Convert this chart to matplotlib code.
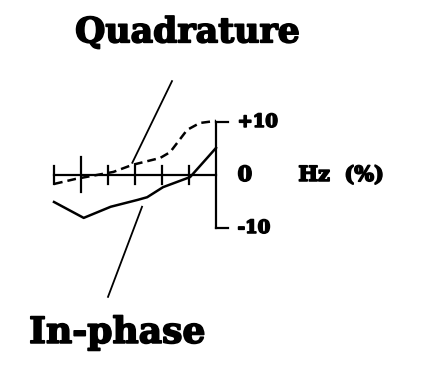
import numpy as np
from matplotlib import pyplot as plt
import matplotlib.patheffects as pe

# quadrature (dashed) and in-phase (solid) curves, x in tick units, y in %
quad_x = [-6.0, -5.2, -3.8, -3.1, -2.07, -1.7, -1.07, -0.6, 0.0]
quad_y = [-1.7, -0.75, 0.57, 1.9, 3.2, 4.3, 8.5, 9.8, 10.2]
inph_x = [-6.0, -4.9, -3.9, -2.9, -2.55, -1.96, -0.96, -0.33, 0.0]
inph_y = [-5.1, -8.1, -6.0, -4.7, -4.2, -2.3, -0.4, 3.2, 5.1]

tick_x = [-6, -5, -4, -3, -2, -1]
tick_len = [1.7, 3.3, 1.7, 1.7, 1.7, 1.7]
y_ticks = [10, 0, -10]
y_labels = ['+10', '0', '-10']
y_sizes = [13, 15, 13]

fig = plt.figure(figsize=(4.45, 3.65), dpi=100)
ax = fig.add_axes([0, 0, 1, 1])
ax.set_xlim(-8.0, 8.48)
ax.set_ylim(-35.85, 33.0)
ax.axis('off')

lw = 1.6
# horizontal axis with ticks
ax.plot([-6, 0], [0, 0], color='black', lw=lw)
for tx, tl in zip(tick_x, tick_len):
    ax.plot([tx, tx], [-tl, tl], color='black', lw=lw)
# vertical axis with end caps
ax.plot([0, 0], [-10, 10], color='black', lw=lw)
ax.plot([0, 0.45], [10, 10], color='black', lw=lw)
ax.plot([0, 0.45], [-10, -10], color='black', lw=lw)

ax.plot(quad_x, quad_y, color='black', lw=1.8, ls=(0, (3.5, 2)))
ax.plot(inph_x, inph_y, color='black', lw=1.8)

# leader lines
ax.plot([-1.63, -3.1], [17.7, 2.3], color='black', lw=1.3)
ax.plot([-2.74, -4.0], [-6.0, -23.0], color='black', lw=1.3)

heavy = [pe.withStroke(linewidth=1.2, foreground='black')]
font = dict(family='DejaVu Serif', weight='bold', color='black', path_effects=heavy)
for yv, lab, fs in zip(y_ticks, y_labels, y_sizes):
    ax.text(0.8, yv, lab, ha='left', va='center', fontsize=fs, **font)
ax.text(3.05, 0, 'Hz  (%)', ha='left', va='center', fontsize=15, **font)
ax.text(-1.05, 26.9, 'Quadrature', ha='center', va='center', fontsize=25, **font)
ax.text(-3.65, -29.8, 'In-phase', ha='center', va='center', fontsize=26, **font)

fig.savefig('out.png', dpi=100)
